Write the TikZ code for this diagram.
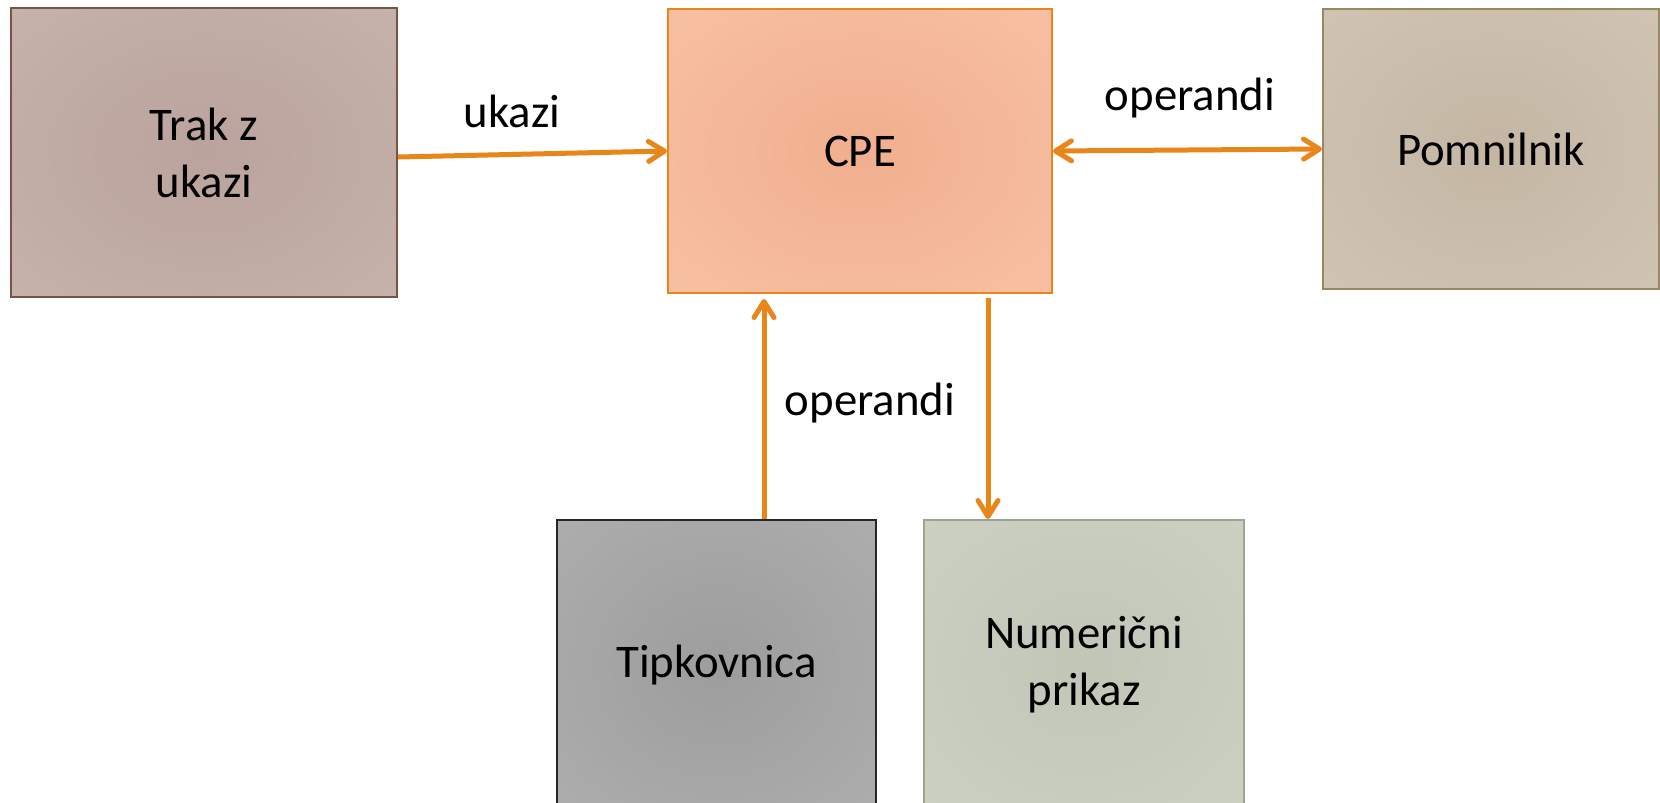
\documentclass[tikz,border=0pt]{standalone}
\usepackage{fontspec}
\setmainfont{Carlito}
\usetikzlibrary{arrows.meta}

\makeatletter
% gentle radial glow that reaches the outer colour near the box edges
\pgfdeclareradialshading[tikz@radial@inner,tikz@radial@outer]{softglow}{\pgfpoint{0bp}{0bp}}{%
  color(0bp)=(tikz@radial@inner);
  color(42bp)=(tikz@radial@outer);
  color(60bp)=(tikz@radial@outer)}
\makeatother

\definecolor{flow}{HTML}{E8861A}
\definecolor{trakIn}{HTML}{BAA39C}\definecolor{trakOut}{HTML}{C7B5AE}\definecolor{trakLine}{HTML}{7B5343}
\definecolor{cpeIn}{HTML}{F0AF8E}\definecolor{cpeOut}{HTML}{F9C3A6}
\definecolor{pomIn}{HTML}{C4B6A3}\definecolor{pomOut}{HTML}{D2C6B6}\definecolor{pomLine}{HTML}{9A8660}
\definecolor{tipIn}{HTML}{9D9D9D}\definecolor{tipOut}{HTML}{B0B0B0}\definecolor{tipLine}{HTML}{262626}
\definecolor{numIn}{HTML}{C1C6B7}\definecolor{numOut}{HTML}{CDD2C5}\definecolor{numLine}{HTML}{9AA48E}

\tikzset{
  unit/.style={draw, line width=1pt, inner sep=0pt, align=center,
    font=\fontsize{23.4}{28.5}\selectfont},
  unitshade/.style n args={3}{inner color=#1, outer color=#2, shading=softglow, draw=#3},
  barb/.tip={Straight Barb[length=8pt,width=10pt,line width=2.5pt,round]},
  flowline/.style={draw=flow, line width=2.5pt, -barb},
  bothway/.style={draw=flow, line width=2.5pt, barb-barb},
  tag/.style={font=\fontsize{23.4}{28.5}\selectfont, inner sep=0pt}
}

\begin{document}
\begin{tikzpicture}[x=0.5pt,y=-0.5pt]
  \useasboundingbox (0,0) rectangle (1660,803);

  % processing units
  \node[unit, unitshade={trakIn}{trakOut}{trakLine},
        minimum width=193pt, minimum height=144.5pt] (trak) at (204,152.5) {Trak z\\ukazi};
  \node[unit, unitshade={cpeIn}{cpeOut}{flow},
        minimum width=192pt, minimum height=142pt] (cpe) at (860,151) {CPE};
  \node[unit, unitshade={pomIn}{pomOut}{pomLine},
        minimum width=168pt, minimum height=140pt] (pom) at (1491,149) {Pomnilnik};
  \node[unit, unitshade={tipIn}{tipOut}{tipLine},
        minimum width=159.5pt, minimum height=145pt] (tip) at (716.5,665) {Tipkovnica};
  \node[unit, unitshade={numIn}{numOut}{numLine},
        minimum width=160pt, minimum height=145pt] (num) at (1084,665) {Numerični\\prikaz};

  % columns of the vertical links
  \coordinate (upx) at (764,0);
  \coordinate (downx) at (988,0);

  % data flow
  \draw[flowline] ([yshift=-2.25pt]trak.east) -- (cpe.west);
  \draw[bothway] (cpe.east) -- (pom.west);
  \draw[flowline, shorten >=2.5pt] (tip.north -| upx) -- (cpe.south -| upx);
  \draw[flowline, shorten <=2pt] (cpe.south -| downx) -- (num.north -| downx);

  % link labels
  \node[tag] (lukazi) at (512,111) {ukazi};
  \node[tag] (lmem) at (1190,98) {operandi};
  \node[tag] (lkey) at (870,403) {operandi};
\end{tikzpicture}
\end{document}
